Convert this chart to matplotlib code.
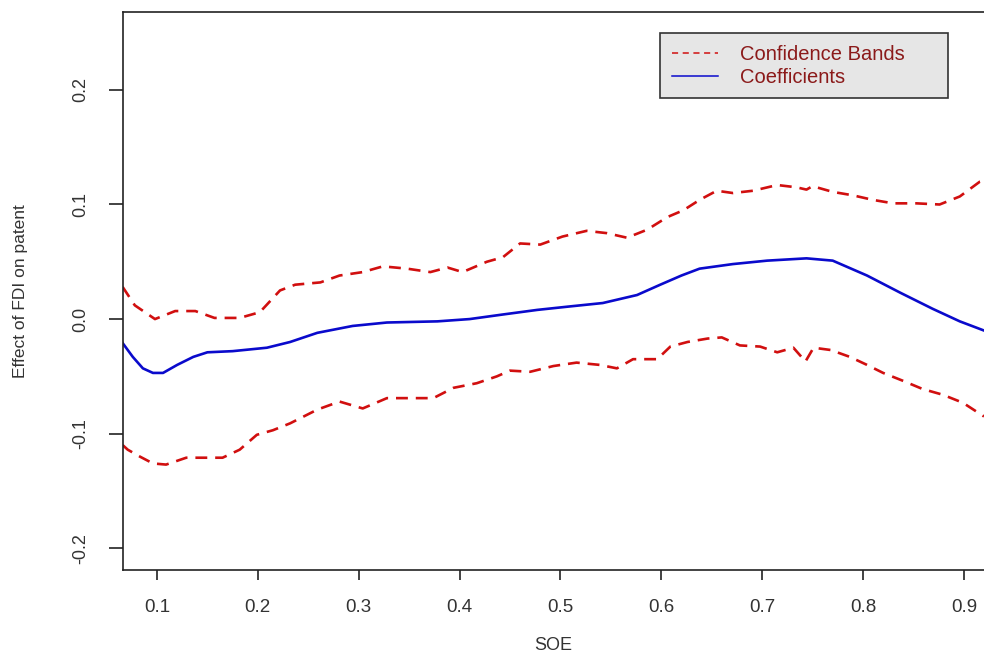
import matplotlib.pyplot as plt
from matplotlib.lines import Line2D

plt.rcParams['font.family'] = ['Liberation Sans', 'DejaVu Sans']

# coefficient curve (SOE, effect)
coef_x = [0.066, 0.076, 0.086, 0.096, 0.106, 0.120, 0.136, 0.150, 0.175, 0.209, 0.232, 0.259,
          0.294, 0.328, 0.378, 0.410, 0.443, 0.477, 0.509, 0.542, 0.576, 0.599, 0.620, 0.638,
          0.671, 0.705, 0.744, 0.770, 0.804, 0.837, 0.869, 0.896, 0.920]
coef_y = [-0.021, -0.033, -0.043, -0.047, -0.047, -0.040, -0.033, -0.029, -0.028, -0.025, -0.020, -0.012,
          -0.006, -0.003, -0.002, 0.000, 0.004, 0.008, 0.011, 0.014, 0.021, 0.030, 0.038, 0.044,
          0.048, 0.051, 0.053, 0.051, 0.038, 0.023, 0.009, -0.002, -0.010]

# upper confidence band
up_x = [0.066, 0.078, 0.098, 0.118, 0.138, 0.157, 0.182, 0.202, 0.222, 0.237, 0.262, 0.281,
        0.304, 0.324, 0.348, 0.371, 0.388, 0.403, 0.427, 0.443, 0.460, 0.480, 0.502, 0.526,
        0.546, 0.566, 0.586, 0.606, 0.622, 0.638, 0.655, 0.671, 0.691, 0.715, 0.734, 0.744,
        0.750, 0.770, 0.790, 0.810, 0.830, 0.853, 0.876, 0.896, 0.916, 0.920]
up_y = [0.028, 0.012, 0.000, 0.007, 0.007, 0.001, 0.001, 0.006, 0.025, 0.030, 0.032, 0.038,
        0.041, 0.046, 0.044, 0.041, 0.045, 0.041, 0.050, 0.054, 0.066, 0.065, 0.072, 0.077,
        0.075, 0.071, 0.078, 0.089, 0.095, 0.104, 0.112, 0.110, 0.112, 0.117, 0.115, 0.113,
        0.116, 0.111, 0.108, 0.104, 0.101, 0.101, 0.100, 0.107, 0.120, 0.121]

# lower confidence band
lo_x = [0.066, 0.071, 0.083, 0.096, 0.109, 0.129, 0.149, 0.165, 0.182, 0.199, 0.215, 0.232,
        0.259, 0.281, 0.304, 0.328, 0.351, 0.374, 0.394, 0.417, 0.437, 0.450, 0.470, 0.493,
        0.516, 0.539, 0.556, 0.572, 0.596, 0.609, 0.626, 0.646, 0.660, 0.678, 0.698, 0.715,
        0.731, 0.743, 0.751, 0.768, 0.787, 0.804, 0.820, 0.840, 0.859, 0.879, 0.899, 0.920]
lo_y = [-0.110, -0.114, -0.120, -0.126, -0.127, -0.121, -0.121, -0.121, -0.114, -0.101, -0.097, -0.091,
        -0.079, -0.072, -0.078, -0.069, -0.069, -0.069, -0.060, -0.056, -0.050, -0.045, -0.046, -0.041,
        -0.038, -0.040, -0.043, -0.035, -0.035, -0.024, -0.020, -0.017, -0.016, -0.023, -0.024, -0.029,
        -0.025, -0.037, -0.025, -0.027, -0.033, -0.040, -0.047, -0.054, -0.061, -0.066, -0.073, -0.085]

x_ticks = [0.1, 0.2, 0.3, 0.4, 0.5, 0.6, 0.7, 0.8, 0.9]
y_ticks = [-0.2, -0.1, 0.0, 0.1, 0.2]

red = '#d10f0f'
blue = '#0a0acc'
text_col = '#333333'

fig = plt.figure(figsize=(9.84, 6.58), dpi=100)
ax = fig.add_axes([123 / 984, 1 - 570 / 658, 1 - 123 / 984, (570 - 12) / 658])

ax.plot(up_x, up_y, color=red, lw=1.9, linestyle=(0, (4.5, 3)))
ax.plot(lo_x, lo_y, color=red, lw=1.9, linestyle=(0, (4.5, 3)))
ax.plot(coef_x, coef_y, color=blue, lw=1.9)

ax.set_xlim(0.0663, 0.92)
ax.set_ylim(-0.219, 0.268)
ax.set_xticks(x_ticks)
ax.set_xticklabels([str(v) for v in x_ticks])
ax.set_yticks(y_ticks)
ax.set_yticklabels(['%.1f' % v for v in y_ticks], rotation=90, va='center')

ax.spines['right'].set_visible(False)
for s in ['left', 'bottom', 'top']:
    ax.spines[s].set_linewidth(1.2)
    ax.spines[s].set_color('#222222')
ax.tick_params(axis='y', length=10, width=1.2, colors='#222222', labelcolor=text_col,
               labelsize=13, pad=14)
ax.tick_params(axis='x', length=7, width=1.2, colors='#222222', labelcolor=text_col,
               labelsize=13.5, pad=14)

ax.set_xlabel('SOE', fontsize=13, color=text_col, labelpad=15)
ax.set_ylabel('Effect of FDI on patent', fontsize=12.5, color=text_col, labelpad=32)

handles = [Line2D([], [], color=red, lw=1.1, linestyle=(0, (4, 3))),
           Line2D([], [], color=blue, lw=1.1)]
leg = ax.legend(handles, ['Confidence Bands', 'Coefficients'],
                loc='upper left', mode='expand',
                bbox_to_anchor=(660 / 984, 1 - 97 / 658, 288 / 984, 64 / 658),
                bbox_transform=fig.transFigure, borderaxespad=0,
                fancybox=False, facecolor='#e6e6e6', edgecolor='#333333', framealpha=1,
                fontsize=14.5, labelcolor='#8b1a1a', handlelength=2.3, handletextpad=1.1,
                labelspacing=0.2, borderpad=0.58)
leg.get_frame().set_linewidth(1.2)

fig.savefig('out.png', dpi=100)
